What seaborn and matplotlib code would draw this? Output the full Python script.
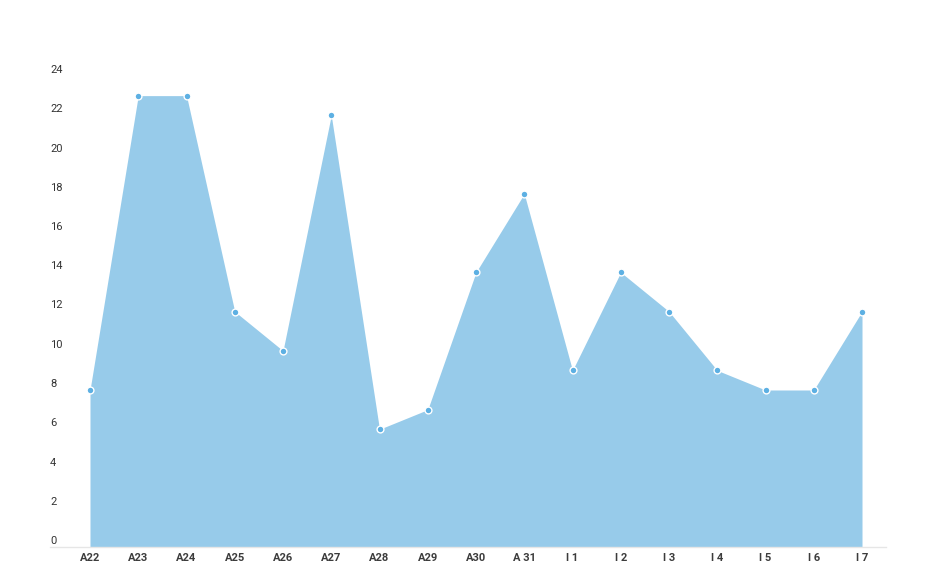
import matplotlib
matplotlib.use("Agg")
import matplotlib.pyplot as plt
import matplotlib.transforms as mtransforms
import seaborn as sns
import numpy as np
import pandas as pd

categories = ["A22", "A23", "A24", "A25", "A26", "A27", "A28", "A29", "A30", "A 31",
              "I 1", "I 2", "I 3", "I 4", "I 5", "I 6", "I 7"]
values = [8, 23, 23, 12, 10, 22, 6, 7, 14, 18, 9, 14, 12, 9, 8, 8, 12]
yticks = [0, 2, 4, 6, 8, 10, 12, 14, 16, 18, 20, 22, 24]

sns.set_theme(style="white")
plt.rcParams['font.family'] = ['Roboto', 'DejaVu Sans']

df = pd.DataFrame({"cat": categories, "x": np.arange(len(categories)), "value": values})

W, H = 931, 579
fig = plt.figure(figsize=(W / 100, H / 100), dpi=100)
left, right, bottom_px, top_px = 50, 886, 547, 76
ax = fig.add_axes([left / W, (H - bottom_px) / H, (right - left) / W, (bottom_px - top_px) / H])

fill_color = "#97CBEA"
marker_color = "#5DB0E3"

ax.fill_between(df["x"], 0, df["value"], color=fill_color, linewidth=0, zorder=1)
sns.scatterplot(data=df, x="x", y="value", ax=ax, s=24, color=marker_color,
                edgecolor="white", linewidth=1.0, zorder=3, clip_on=False)

spacing = (862 - 90) / 16
ax.set_xlim(-(90 - left) / spacing, 16 + (right - 862) / spacing)
ax.set_ylim(0, 24)

ax.set_xticks(df["x"])
ax.set_xticklabels(categories, fontsize=8, color="#3C3C3C", fontweight="bold")
ax.set_yticks(yticks)
ax.set_yticklabels([str(v) for v in yticks], fontsize=8, color="#333333")

ax.tick_params(axis="x", length=0, pad=4)
ax.tick_params(axis="y", length=0, pad=0)
offset = mtransforms.ScaledTranslation(0, 7 / 100, fig.dpi_scale_trans)
for lab in ax.get_yticklabels():
    lab.set_horizontalalignment("left")
    lab.set_transform(lab.get_transform() + offset)

ax.set_xlabel("")
ax.set_ylabel("")
for s in ["top", "right", "left"]:
    ax.spines[s].set_visible(False)
ax.spines["bottom"].set_color("#E6E6E6")
ax.spines["bottom"].set_linewidth(1)
ax.grid(False)

fig.savefig("out.png", dpi=100)
